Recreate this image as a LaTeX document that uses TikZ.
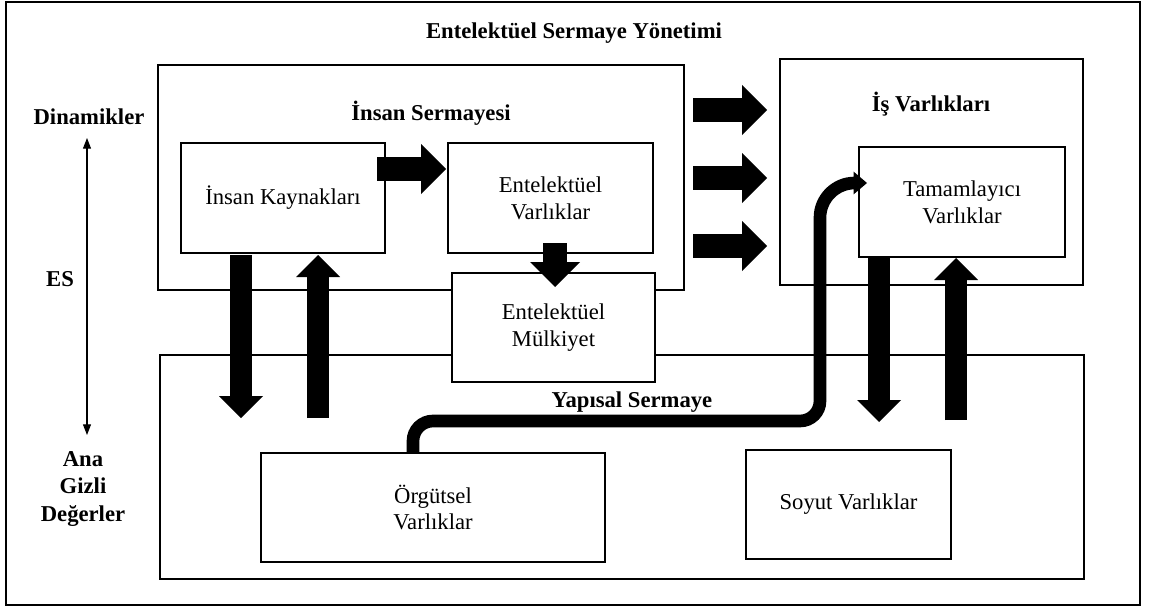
\documentclass[tikz,border=0pt]{standalone}
\usepackage{fontspec}
\setmainfont{Liberation Serif}
\usetikzlibrary{arrows.meta}
\newcommand\bxfont{\fontsize{17}{20}\selectfont}
\newcommand\lbfont{\fontsize{17}{20.5}\selectfont\bfseries}
\tikzset{
  bx/.style n args={2}{draw, line width=1.1pt, fill=white, inner sep=0pt, outer sep=0pt,
    minimum width={#1*0.75pt}, minimum height={#2*0.75pt}, align=center, font=\bxfont},
  lbl/.style={inner sep=0pt, outer sep=0pt, align=center, font=\lbfont},
  fat/.style={draw=black, line width=18pt, -{Triangle[length=18.75pt, width=37.5pt, line width=0pt]}},
  fatv/.style={draw=black, line width=16.5pt, -{Triangle[length=16.5pt, width=33pt, line width=0pt]}},
  curvy/.style={draw=black, line width=9.5pt, -{Triangle[length=10pt, width=17pt, line width=0pt]}},
  thinarr/.style={draw=black, line width=0.8pt, {Triangle[length=8pt, width=6pt]}-{Triangle[length=8pt, width=6pt]}}
}
\begin{document}
\begin{tikzpicture}[x=0.75pt,y=-0.75pt]
\useasboundingbox (0,0) rectangle (1150,610);
% outer frame
\node[bx={1134}{603}, line width=1.5pt, fill=none] (frame) at (573,303.5) {};
% containers
\node[bx={526}{225}] (is) at (421,177.5) {};
\node[bx={303}{226}] (ish) at (931.5,172) {};
\node[bx={924}{224}] (ys) at (622,467) {};
% inner boxes
\node[bx={204}{110}] (ik) at (283,198) {İnsan Kaynakları};
\node[bx={205}{110}] (ev) at (550.5,198) {Entelektüel\\Varlıklar};
\node[bx={206}{110}] (tam) at (962,202) {Tamamlayıcı\\Varlıklar};
\node[bx={344}{109}] (org) at (433,507.5) {Örgütsel\\Varlıklar};
\node[bx={205}{109}] (soy) at (848.5,504.5) {Soyut Varlıklar};
\node[bx={203}{109}] (em) at (553.5,327.5) {Entelektüel\\Mülkiyet};
% labels
\node[lbl, anchor=base] (title) at (574,39) {Entelektüel Sermaye Yönetimi};
\node[lbl, anchor=base] (isl) at (431,120) {İnsan Sermayesi};
\node[lbl, anchor=base] (ishl) at (931,112) {İş Varlıkları};
\node[lbl, anchor=base] (ysl) at (632,407) {Yapısal Sermaye};
\node[lbl, anchor=base] (dyn) at (89,124) {Dinamikler};
\node[lbl, anchor=base] (es) at (60,286) {ES};
\node[lbl] (ana) at (83,489) {Ana\\Gizli\\Değerler};
% thin double arrow
\coordinate (dtop) at (87,138);
\coordinate (dbot) at (87,435);
\draw[thinarr] (dtop) -- (dbot);
% fat arrows
\draw[fat] ([shift={(-8,26)}]ik.north east) -- ([shift={(-2,26)}]ev.north west);
\draw[fat] ([shift={(4.5,-10)}]ev.south) -- ([shift={(1.5,14)}]em.north);
\draw[fat] ([shift={(9,45)}]is.north east) -- ([shift={(-13,51)}]ish.north west);
\draw[fat] ([shift={(9,113)}]is.north east) -- ([shift={(-13,119)}]ish.north west);
\draw[fat] ([shift={(9,181)}]is.north east) -- ([shift={(-13,187)}]ish.north west);
\draw[fatv] ([shift={(-42,2)}]ik.south) -- ([shift={(81,63)}]ys.north west);
\draw[fatv] ([shift={(158,63)}]ys.north west) -- ([shift={(35,2)}]ik.south);
\draw[fatv] ([shift={(-83,1)}]tam.south) -- ([shift={(-205,67)}]ys.north east);
\draw[fatv] ([shift={(-128,65)}]ys.north east) -- ([shift={(-6,1)}]tam.south);
% curved arrow
\draw[curvy, rounded corners=15pt] ([shift={(-20,0)}]org.north) -- ([shift={(-20,-32)}]org.north)
  -- ([shift={(-39,274)}]tam.north west) [rounded corners=26pt] -- ([shift={(-39,36)}]tam.north west)
  -- ([shift={(8,36)}]tam.north west);
\end{tikzpicture}
\end{document}
